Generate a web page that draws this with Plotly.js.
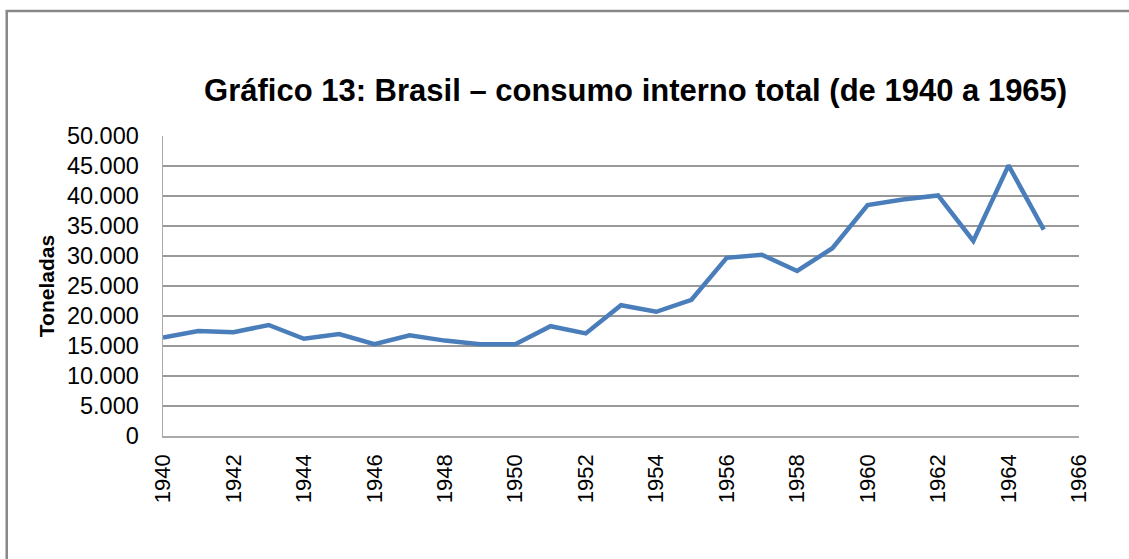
<!DOCTYPE html>
<html>
<head>
<meta charset="utf-8">
<script src="https://cdn.plot.ly/plotly-3.0.1.min.js"></script>
<style>
  html, body { margin: 0; padding: 0; background: #fff; }
  #chart { width: 1129px; height: 559px; }
</style>
</head>
<body>
<div id="chart"></div>
<script>
const years = [1940, 1941, 1942, 1943, 1944, 1945, 1946, 1947, 1948, 1949, 1950, 1951, 1952,
               1953, 1954, 1955, 1956, 1957, 1958, 1959, 1960, 1961, 1962, 1963, 1964, 1965];
const consumo = [16400, 17500, 17300, 18500, 16200, 17000, 15300, 16800, 15900, 15300, 15300, 18300, 17100,
                 21800, 20700, 22700, 29700, 30200, 27500, 31300, 38500, 39400, 40100, 32500, 45100, 34400];
const titleText = 'Gráfico 13: Brasil – consumo interno total (de 1940 a 1965)';
const yTitle = 'Toneladas';

const trace = {
  x: years,
  y: consumo,
  type: 'scatter',
  mode: 'lines',
  line: { color: '#4a7ebb', width: 4.5 },
  hoverinfo: 'x+y'
};

const layout = {
  width: 1129,
  height: 559,
  margin: { l: 163, r: 50, t: 136, b: 123 },
  paper_bgcolor: '#ffffff',
  plot_bgcolor: '#ffffff',
  separators: ',.',
  showlegend: false,
  title: {
    text: titleText,
    font: { family: 'Liberation Sans, Arial, sans-serif', size: 31, color: '#000', weight: 'bold' },
    x: 0.563, xanchor: 'center', xref: 'container',
    y: 0.839, yanchor: 'middle', yref: 'container'
  },
  xaxis: {
    range: [1940, 1966],
    tick0: 1940,
    dtick: 2,
    tickangle: -90,
    showgrid: false,
    zeroline: false,
    showline: true,
    linecolor: '#aaaaaa',
    linewidth: 1.5,
    ticks: '',
    ticklabelstandoff: 8,
    tickfont: { family: 'Liberation Sans, Arial, sans-serif', size: 22, color: '#000' }
  },
  yaxis: {
    range: [0, 50000],
    tick0: 0,
    dtick: 5000,
    tickformat: ',d',
    showgrid: true,
    gridcolor: '#999999',
    gridwidth: 1.2,
    zeroline: false,
    showline: true,
    linecolor: '#aaaaaa',
    linewidth: 1.5,
    ticks: '',
    ticklabelstandoff: 18,
    tickfont: { family: 'Liberation Sans, Arial, sans-serif', size: 23.5, color: '#000' },
    title: {
      text: yTitle,
      standoff: 6,
      font: { family: 'Liberation Sans, Arial, sans-serif', size: 21, color: '#000', weight: 'bold' }
    }
  },
  shapes: [
    {
      type: 'rect', xref: 'paper', yref: 'paper',
      x0: -0.1706, x1: 1.2, y0: -0.6, y1: 1.4167,
      line: { color: '#888888', width: 2.5 },
      fillcolor: 'rgba(0,0,0,0)',
      layer: 'below'
    }
  ]
};

Plotly.newPlot('chart', [trace], layout, { displayModeBar: false, staticPlot: true });
</script>
</body>
</html>
